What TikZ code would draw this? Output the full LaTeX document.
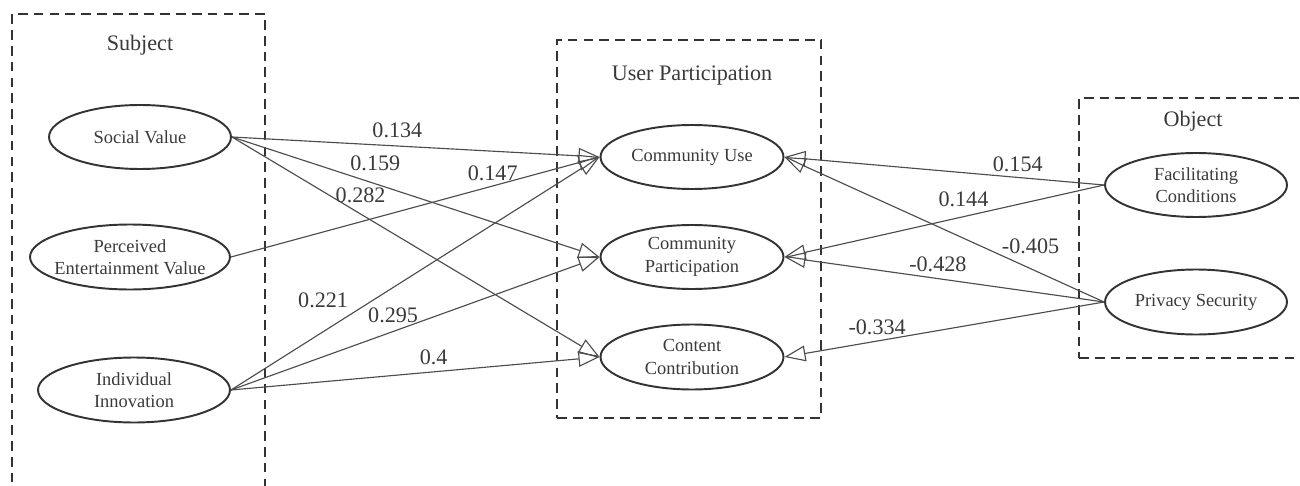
\documentclass[tikz,border=0pt]{standalone}
\usepackage{fontspec}
\setmainfont{Liberation Serif}
\usetikzlibrary{arrows.meta,shapes.geometric}

\definecolor{inkc}{HTML}{333333}
\definecolor{linec}{HTML}{4d4d4d}
\definecolor{textc}{HTML}{3a3a3a}

\tikzset{
  group/.style={draw=inkc, line width=1.2pt, dash pattern=on 5.5pt off 3.5pt},
  var/.style={draw=inkc, line width=1.1pt, ellipse, inner sep=0pt, minimum height=1.28cm},
  vtext/.style={font=\fontsize{10.5}{12.8}\selectfont, text=textc, align=center, inner sep=0pt},
  title/.style={font=\fontsize{12.6}{15}\selectfont, text=textc},
  coef/.style={font=\fontsize{12.6}{15}\selectfont, text=textc, inner sep=0pt},
  link/.style={draw=linec, line width=0.65pt, -{Triangle[open, length=12pt, width=9pt]}},
}

\begin{document}
\begin{tikzpicture}[x=0.02cm, y=-0.02cm]
    \useasboundingbox (0,0) rectangle (1300,486);
    \clip (0,0) rectangle (1300,486);

    % Groups
    \node[group, minimum width=5.06cm, minimum height=10.12cm] (subj) at (138.5,267) {};
    \node[group, minimum width=5.28cm, minimum height=7.56cm] (upart) at (689,229) {};
    \node[group, minimum width=4.82cm, minimum height=5.2cm] (obj) at (1199.5,228) {};
    \node[title] (tsubj) at (140,45) {Subject};
    \node[title] (tupart) at (692,76) {User Participation};
    \node[title] (tobj) at (1193,121) {Object};

    % Subject
    \node[var, minimum width=3.64cm, label={[vtext]center:Social Value}] (sv) at (140,137) {};
    \node[var, minimum width=4cm, minimum height=1.3cm, label={[vtext]center:Perceived\\Entertainment Value}] (pev) at (130,257) {};
    \node[var, minimum width=3.84cm, minimum height=1.3cm, label={[vtext]center:Individual\\Innovation}] (ii) at (134,390) {};

    % User participation
    \node[var, minimum width=3.66cm, label={[vtext]center:Community Use}] (cu) at (692,157) {};
    \node[var, minimum width=3.66cm, label={[vtext]center:Community\\Participation}] (cp) at (692,257) {};
    \node[var, minimum width=3.66cm, minimum height=1.3cm, label={[vtext]center:Content\\Contribution}] (cc) at (692,357) {};

    % Object
    \node[var, minimum width=3.64cm, label={[vtext]center:Facilitating\\Conditions}] (fc) at (1196,185) {};
    \node[var, minimum width=3.64cm, minimum height=1.3cm, label={[vtext]center:Privacy Security}] (ps) at (1196,302) {};

    % Paths from subject
    \draw[link] (sv.east) -- (cu.west) node[coef, pos=0.45, yshift=9pt] (c1) {0.134};
    \draw[link] (sv.east) -- (cp.west) node[coef, pos=0.39, yshift=11.8pt] (c2) {0.159};
    \draw[link] (sv.east) -- (cc.west) node[coef, pos=0.35, yshift=10.6pt] (c3) {0.282};
    \draw[link] (pev.east) -- (cu.west) node[coef, pos=0.71, yshift=7.5pt] (c4) {0.147};
    \draw[link] (ii.east) -- (cu.west) node[coef, pos=0.25, yshift=18pt] (c5) {0.221};
    \draw[link] (ii.east) -- (cp.west) node[coef, pos=0.44, yshift=9.3pt] (c6) {0.295};
    \draw[link] (ii.east) -- (cc.west) node[coef, pos=0.55, yshift=8.4pt] (c7) {0.4};

    % Paths from object
    \draw[link] (fc.west) -- (cu.east) node[coef, pos=0.27, yshift=7.6pt] (c8) {0.154};
    \draw[link] (fc.west) -- (cp.east) node[coef, pos=0.44, yshift=9.7pt] (c9) {0.144};
    \draw[link] (ps.west) -- (cu.east) node[coef, pos=0.23, yshift=12.6pt] (c10) {-0.405};
    \draw[link] (ps.west) -- (cp.east) node[coef, pos=0.52, yshift=8.3pt] (c11) {-0.428};
    \draw[link] (ps.west) -- (cc.east) node[coef, pos=0.71, yshift=8pt] (c12) {-0.334};
\end{tikzpicture}
\end{document}
